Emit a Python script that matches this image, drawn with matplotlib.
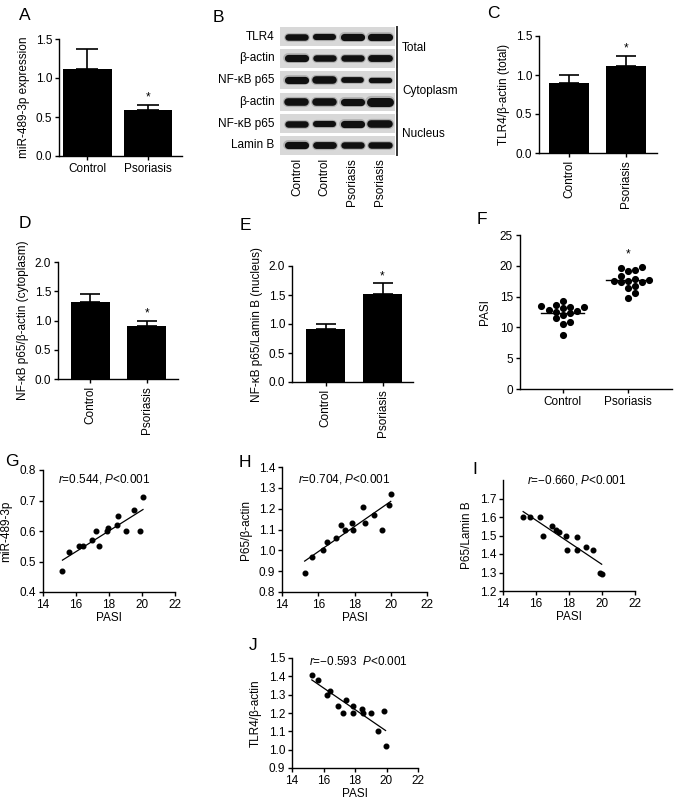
import numpy as np
import matplotlib
matplotlib.use("Agg")
import matplotlib.pyplot as plt

plt.rcParams['font.family'] = ['Liberation Sans', 'DejaVu Sans']
plt.rcParams['mathtext.fontset'] = 'custom'
plt.rcParams['mathtext.rm'] = 'Liberation Sans'
plt.rcParams['mathtext.it'] = 'Liberation Sans:italic'
plt.rcParams['font.size'] = 8.5
plt.rcParams['axes.linewidth'] = 1.0
plt.rcParams['xtick.major.width'] = 1.0
plt.rcParams['ytick.major.width'] = 1.0
plt.rcParams['xtick.major.size'] = 3
plt.rcParams['ytick.major.size'] = 3

W, H = 677, 802

# ---- data ----
groups = ["Control", "Psoriasis"]

mir_mean = [1.12, 0.59]
mir_sem = [0.25, 0.07]
tlr4_mean = [0.90, 1.11]
tlr4_sem = [0.10, 0.14]
p65_cyto_mean = [1.31, 0.91]
p65_cyto_sem = [0.14, 0.09]
p65_nuc_mean = [0.91, 1.51]
p65_nuc_sem = [0.09, 0.19]

blot_rows = ["TLR4", "β-actin", "NF-κB p65", "β-actin", "NF-κB p65", "Lamin B"]
blot_lanes = ["Control", "Control", "Psoriasis", "Psoriasis"]
blot_bands = [
    [0.90, 0.85, 1.00, 1.00],
    [1.00, 0.90, 0.90, 0.95],
    [1.00, 1.05, 0.80, 0.75],
    [1.05, 1.05, 1.00, 1.25],
    [0.90, 0.85, 1.00, 1.05],
    [1.00, 0.95, 0.90, 0.90],
]
blot_sections = ["Total", "Cytoplasm", "Nucleus"]
section_rows = [(0, 1), (2, 3), (4, 5)]

pasi_control = [13.4, 13.1, 14.3, 13.6, 13.3, 13.3, 12.9, 12.7, 12.3, 12.0,
                11.5, 10.9, 10.6, 8.7, 12.5]
pasi_psoriasis = [19.8, 19.3, 19.2, 19.7, 18.4, 17.3, 17.6, 17.7, 17.3, 17.9,
                  16.4, 16.8, 15.6, 14.7, 17.5]

g_pasi = [15.18, 15.6, 16.2, 16.4, 16.96, 17.2, 17.4, 17.85, 17.95, 18.5,
          18.55, 19.06, 19.5, 19.9, 20.06]
g_mir = [0.47, 0.53, 0.55, 0.55, 0.57, 0.60, 0.55, 0.60, 0.61, 0.62,
         0.65, 0.60, 0.67, 0.60, 0.71]

h_pasi = [15.25, 15.64, 16.27, 16.46, 16.98, 17.26, 17.48, 17.85, 17.9, 18.47,
          18.56, 19.08, 19.52, 19.9, 20.0]
h_p65 = [0.89, 0.97, 1.00, 1.04, 1.06, 1.12, 1.10, 1.13, 1.10, 1.21,
         1.13, 1.17, 1.10, 1.22, 1.27]

i_pasi = [15.22, 15.62, 16.23, 16.43, 16.94, 17.2, 17.41, 17.81, 17.9, 18.46,
          18.5, 19.03, 19.48, 19.88, 19.98]
i_p65 = [1.60, 1.60, 1.60, 1.50, 1.55, 1.53, 1.52, 1.50, 1.42, 1.42,
         1.49, 1.44, 1.42, 1.30, 1.29]

j_pasi = [15.26, 15.68, 16.25, 16.42, 16.95, 17.22, 17.43, 17.85, 17.9, 18.42,
          18.53, 18.99, 19.47, 19.83, 19.94]
j_tlr4 = [1.41, 1.38, 1.30, 1.32, 1.24, 1.20, 1.27, 1.20, 1.24, 1.22,
          1.20, 1.20, 1.10, 1.21, 1.02]

g_stat = "$\\mathit{r}$=0.544, $\\mathit{P}$<0.001"
h_stat = "$\\mathit{r}$=0.704, $\\mathit{P}$<0.001"
i_stat = "$\\mathit{r}$=\u22120.660, $\\mathit{P}$<0.001"
j_stat = "$\\mathit{r}$=\u22120.593  $\\mathit{P}$<0.001"


def px_axes(fig, x0, y0, x1, y1):
    return fig.add_axes([x0 / W, 1 - y1 / H, (x1 - x0) / W, (y1 - y0) / H])


def style(ax):
    ax.spines['top'].set_visible(False)
    ax.spines['right'].set_visible(False)
    ax.tick_params(direction='out', labelsize=8.5, pad=2)


def bar_panel(ax, means, sems, ylim, yticks, ylabel, width, xlim, rotate, cap):
    x = np.arange(len(groups))
    ax.bar(x, means, width=width, color='black')
    ax.errorbar(x, means, yerr=[np.zeros(len(means)), sems], fmt='none',
                ecolor='black', elinewidth=1.2, capsize=cap, capthick=1.2)
    ax.annotate('*', (x[1], means[1] + sems[1]), xytext=(0, 0.5),
                textcoords='offset points', ha='center', va='bottom', fontsize=8.5)
    ax.set_xlim(*xlim)
    ax.set_ylim(*ylim)
    ax.set_yticks(yticks)
    ax.set_yticklabels([f"{t:.1f}" for t in yticks])
    ax.set_xticks(x)
    ax.set_xticklabels(groups, rotation=90 if rotate else 0)
    ax.set_ylabel(ylabel, fontsize=8.5, labelpad=4)
    style(ax)


def swarm_offsets(values, dx, dy):
    order = np.argsort(values)
    placed = []
    offs = np.zeros(len(values))
    for i in order:
        v = values[i]
        for k in range(40):
            cand = 0.0 if k == 0 else ((k + 1) // 2) * dx * (1 if k % 2 else -1)
            ok = True
            for (px, py) in placed:
                if ((cand - px) / dx) ** 2 + ((v - py) / dy) ** 2 < 1.0:
                    ok = False
                    break
            if ok:
                offs[i] = cand
                placed.append((cand, v))
                break
    return offs


def scatter_panel(ax, xs, ys, ylim, yticks, ylabel, stat, stat_pos):
    xs = np.asarray(xs)
    ys = np.asarray(ys)
    ax.scatter(xs, ys, s=11, color='black', zorder=3)
    slope, icpt = np.polyfit(xs, ys, 1)
    xx = np.array([xs.min(), xs.max()])
    ax.plot(xx, slope * xx + icpt, color='black', lw=0.9)
    ax.set_xlim(14, 22)
    ax.set_xticks([14, 16, 18, 20, 22])
    ax.set_ylim(*ylim)
    ax.set_yticks(yticks)
    ax.set_yticklabels([f"{t:.1f}" for t in yticks])
    ax.set_xlabel("PASI", fontsize=8.5, labelpad=1)
    ax.set_ylabel(ylabel, fontsize=8.5, labelpad=5)
    ax.text(stat_pos[0], stat_pos[1], stat, transform=ax.transAxes,
            ha='left', va='center', fontsize=8.5)
    style(ax)


fig = plt.figure(figsize=(W / 100, H / 100), dpi=100)

# A
axA = px_axes(fig, 59, 39, 182, 156)
bar_panel(axA, mir_mean, mir_sem, (0, 1.5), [0, 0.5, 1.0, 1.5],
          "miR-489-3p expression", 0.8, (-0.47, 1.56), False, 8)

# B western blot
axB = px_axes(fig, 280, 27, 395, 155)
axB.set_xlim(-0.61, 3.54)
axB.set_ylim(5.45, -0.45)
axB.axis('off')
for r, (name, bands) in enumerate(zip(blot_rows, blot_bands)):
    axB.add_patch(plt.Rectangle((-0.61, r - 0.43), 4.15, 0.86,
                                facecolor='#d8d8d8', edgecolor='none'))
    axB.text(-0.8, r, name, ha='right', va='center', fontsize=8.5)
    for lane, b in enumerate(bands):
        axB.plot([lane - 0.31, lane + 0.31], [r, r], color='#555555',
                 lw=7.0 * b, solid_capstyle='round', alpha=0.3)
        axB.plot([lane - 0.31, lane + 0.31], [r, r], color='#101010',
                 lw=5.2 * b, solid_capstyle='round')
for lane, name in enumerate(blot_lanes):
    axB.text(lane, 5.6, name, rotation=90, ha='center', va='top',
             fontsize=8.5, clip_on=False)
for sec, (r0, r1) in zip(blot_sections, section_rows):
    axB.plot([3.62, 3.62], [r0 - 0.45, r1 + 0.45], color='#333333', lw=1.4,
             clip_on=False)
    axB.text(3.8, (r0 + r1) / 2, sec, ha='left', va='center', fontsize=8.5,
             clip_on=False)

# C
axC = px_axes(fig, 539, 36, 657, 153)
bar_panel(axC, tlr4_mean, tlr4_sem, (0, 1.5), [0, 0.5, 1.0, 1.5],
          "TLR4/β-actin (total)", 0.7, (-0.53, 1.54), True, 7)

# D
axD = px_axes(fig, 58, 262, 178, 379)
bar_panel(axD, p65_cyto_mean, p65_cyto_sem, (0, 2.0), [0, 0.5, 1.0, 1.5, 2.0],
          "NF-κB p65/β-actin (cytoplasm)", 0.69, (-0.575, 1.55), True, 7)

# E
axE = px_axes(fig, 292, 266, 413, 382)
bar_panel(axE, p65_nuc_mean, p65_nuc_sem, (0, 2.0), [0, 0.5, 1.0, 1.5, 2.0],
          "NF-κB p65/Lamin B (nucleus)", 0.68, (-0.59, 1.535), True, 7)

# F
axF = px_axes(fig, 520, 235, 672, 389)
for gi, vals in enumerate([pasi_control, pasi_psoriasis]):
    vals = np.asarray(vals)
    offs = swarm_offsets(vals, 0.11, 1.0)
    axF.scatter(gi + offs, vals, s=17, color='black', zorder=3)
    m = vals.mean()
    axF.plot([gi - 0.33, gi + 0.33], [m, m], color='black', lw=1.0)
axF.annotate('*', (1, max(pasi_psoriasis)), xytext=(0, 5),
             textcoords='offset points', ha='center', va='bottom', fontsize=8.5)
axF.set_xlim(-0.66, 1.68)
axF.set_ylim(0, 25)
axF.set_yticks([0, 5, 10, 15, 20, 25])
axF.set_xticks([0, 1])
axF.set_xticklabels(groups)
axF.set_ylabel("PASI", fontsize=8.5, labelpad=6)
style(axF)

# G-J
axG = px_axes(fig, 43, 470, 175, 592)
scatter_panel(axG, g_pasi, g_mir, (0.4, 0.8), [0.4, 0.5, 0.6, 0.7, 0.8],
              "miR-489-3p", g_stat, (0.11, 0.93))
axH = px_axes(fig, 282, 467, 427, 592)
scatter_panel(axH, h_pasi, h_p65, (0.8, 1.4),
              [0.8, 0.9, 1.0, 1.1, 1.2, 1.3, 1.4], "P65/β-actin", h_stat, (0.11, 0.90))
axI = px_axes(fig, 503, 480, 635, 591)
scatter_panel(axI, i_pasi, i_p65, (1.2, 1.8),
              [1.2, 1.3, 1.4, 1.5, 1.6, 1.7], "P65/Lamin B", i_stat, (0.18, 1.0))
axJ = px_axes(fig, 292, 658, 418, 768)
scatter_panel(axJ, j_pasi, j_tlr4, (0.9, 1.5),
              [0.9, 1.0, 1.1, 1.2, 1.3, 1.4, 1.5], "TLR4/β-actin", j_stat, (0.135, 0.97))

# panel letters
letters = [("A", 25, 15), ("B", 218, 18), ("C", 493, 13), ("D", 25, 223),
           ("E", 245, 225), ("F", 482, 220), ("G", 12, 462), ("H", 245, 463),
           ("I", 475, 470), ("J", 253, 645)]
for lab, x, y in letters:
    fig.text(x / W, 1 - y / H, lab, fontsize=12.5, ha='center', va='center')

fig.savefig("out.png", dpi=100)
